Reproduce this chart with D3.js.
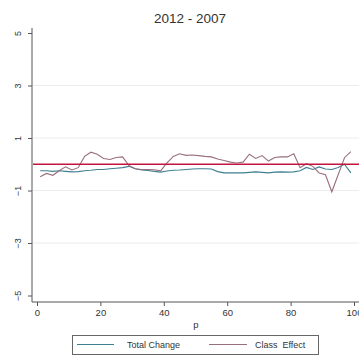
<!DOCTYPE html>
<html>
<head>
<meta charset="utf-8">
<script src="https://cdn.jsdelivr.net/npm/d3@7"></script>
<style>
  html, body { margin: 0; padding: 0; background: #fff; }
  svg { display: block; font-family: Arial, "Liberation Sans", sans-serif; }
</style>
</head>
<body>
<svg id="chart" width="359" height="356"></svg>
<script>
// Percentile points p and the two series plotted against them
const pValues = [1,3,5,7,9,11,13,15,17,19,21,23,25,27,29,31,33,35,37,39,41,43,45,47,49,
                 51,53,55,57,59,61,63,65,67,69,71,73,75,77,79,81,83,85,87,89,91,93,95,97,99];
const totalChange = [-0.25,-0.25,-0.27,-0.25,-0.27,-0.29,-0.28,-0.25,-0.23,-0.2,-0.2,-0.17,-0.15,-0.13,-0.08,
                     -0.17,-0.22,-0.24,-0.27,-0.3,-0.26,-0.23,-0.22,-0.2,-0.18,-0.17,-0.17,-0.18,-0.28,-0.33,
                     -0.33,-0.33,-0.33,-0.31,-0.29,-0.31,-0.33,-0.3,-0.29,-0.3,-0.29,-0.25,-0.12,-0.2,-0.1,
                     -0.18,-0.2,-0.12,0.0,-0.33];
const classEffect = [-0.48,-0.35,-0.42,-0.25,-0.1,-0.22,-0.13,0.3,0.46,0.38,0.22,0.18,0.26,0.28,-0.05,
                     -0.17,-0.2,-0.2,-0.21,-0.25,0.05,0.3,0.4,0.34,0.35,0.33,0.3,0.28,0.2,0.14,
                     0.08,0.05,0.08,0.38,0.22,0.33,0.12,0.26,0.28,0.28,0.4,-0.13,0.02,-0.08,-0.33,
                     -0.4,-1.05,-0.4,0.25,0.48];
const xTicks = [0, 20, 40, 60, 80, 100];
const yTicks = [5, 3, 1, -1, -3, -5];
const referenceLevel = 0;
const seriesNames = ["Total Change", "Class  Effect"];
const titleText = "2012 - 2007";
const xTitle = "p";

const svg = d3.select("#chart");
const x = d3.scaleLinear().domain([0, 100]).range([37, 354]);
const y = d3.scaleLinear().domain([-5, 5]).range([295.5, 33]);

const colTotal = "#3f7f92";
const colClass = "#9a6f7c";
const colRef = "#c3143e";

// Title
svg.append("text").attr("x", 190).attr("y", 23).attr("text-anchor", "middle")
  .attr("font-size", 13.5).attr("fill", "#333").text(titleText);

// Grid lines
svg.append("g").selectAll("line").data(yTicks.filter(d => Math.abs(d) < 5)).join("line")
  .attr("x1", 33).attr("x2", 359)
  .attr("y1", d => y(d)).attr("y2", d => y(d))
  .attr("stroke", "#ececec").attr("stroke-width", 1);

// Y axis
const yAxis = svg.append("g").attr("transform", "translate(32,0)")
  .call(d3.axisLeft(y).tickValues(yTicks).tickSize(4).tickFormat(d3.format("d")));
yAxis.select(".domain").attr("stroke", "#555").attr("d", `M0,28V${302 - 0}`);
yAxis.selectAll(".tick line").attr("stroke", "#555");
yAxis.selectAll(".tick text")
  .attr("font-size", 9).attr("fill", "#333")
  .attr("transform", "rotate(-90)")
  .attr("x", 0).attr("y", -11).attr("dy", "0")
  .attr("text-anchor", "middle");

// X axis
const xAxis = svg.append("g").attr("transform", "translate(0,302)")
  .call(d3.axisBottom(x).tickValues(xTicks).tickSize(4).tickFormat(d3.format("d")));
xAxis.select(".domain").attr("stroke", "#555").attr("d", "M32,0H359");
xAxis.selectAll(".tick line").attr("stroke", "#555");
xAxis.selectAll(".tick text").attr("font-size", 9.5).attr("fill", "#333").attr("y", 7);

svg.append("text").attr("x", 196).attr("y", 328).attr("text-anchor", "middle")
  .attr("font-size", 9.5).attr("fill", "#333").text(xTitle);

// Series lines
const line = vals => d3.line().x((d, i) => x(pValues[i])).y(d => y(d))(vals);
svg.append("path").attr("d", line(totalChange)).attr("fill", "none")
  .attr("stroke", colTotal).attr("stroke-width", 1.1);
svg.append("path").attr("d", line(classEffect)).attr("fill", "none")
  .attr("stroke", colClass).attr("stroke-width", 1.1);

// Reference line at zero
svg.append("line").attr("x1", 33).attr("x2", 359)
  .attr("y1", y(referenceLevel)).attr("y2", y(referenceLevel))
  .attr("stroke", colRef).attr("stroke-width", 1.5);

// Legend
const lg = svg.append("g");
lg.append("rect").attr("x", 72.5).attr("y", 335.5).attr("width", 246).attr("height", 19)
  .attr("fill", "#fff").attr("stroke", "#666").attr("stroke-width", 1);
const legendItems = [
  { name: seriesNames[0], color: colTotal, x1: 77, x2: 114, tx: 127 },
  { name: seriesNames[1], color: colClass, x1: 209, x2: 247, tx: 255 }
];
legendItems.forEach(it => {
  lg.append("line").attr("x1", it.x1).attr("x2", it.x2).attr("y1", 344.5).attr("y2", 344.5)
    .attr("stroke", it.color).attr("stroke-width", 1.1);
  lg.append("text").attr("x", it.tx).attr("y", 348).attr("font-size", 9)
    .attr("fill", "#333").attr("xml:space", "preserve").style("white-space", "pre").text(it.name);
});
</script>
</body>
</html>
